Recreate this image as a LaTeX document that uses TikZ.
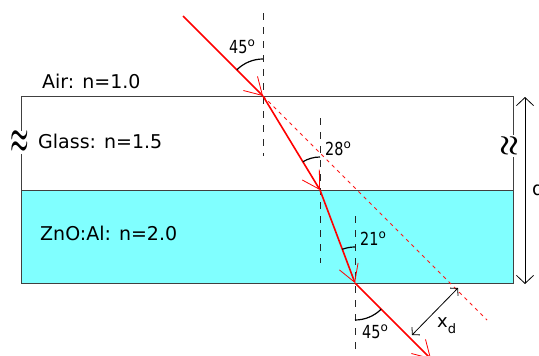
\documentclass[tikz,border=0pt]{standalone}
\usepackage{fontspec}
\setmainfont{DejaVu Sans}
\usepackage{graphicx}
\usetikzlibrary{arrows.meta,calc}
\definecolor{zno}{HTML}{80FFFF}
\definecolor{edgegray}{HTML}{404040}
\newcommand{\degl}[1]{\scalebox{0.8}[1]{#1}\raisebox{7pt}{\fontsize{12}{12}\selectfont o}}
\begin{document}
\begin{tikzpicture}[x=1pt,y=-1pt,
  lbl/.style={font=\fontsize{19}{19}\selectfont, inner sep=0pt, anchor=base west},
  deglbl/.style={font=\fontsize{18}{18}\selectfont, inner sep=0pt, anchor=base west},
  layer/.style={draw=edgegray, line width=0.8pt},
  ray/.style={red, line width=1.6pt, -{Straight Barb[length=17pt,width=20pt,line width=0.8pt]}},
  extline/.style={red!90, line width=0.9pt, dash pattern=on 3.5pt off 4pt},
  normal/.style={black!85, line width=0.9pt, dash pattern=on 7pt off 7pt},
  anglearc/.style={black, line width=1.2pt},
  dimarrow/.style={black, line width=0.8pt, {Straight Barb[length=8pt,width=17pt,line width=0.8pt]}-{Straight Barb[length=8pt,width=17pt,line width=0.8pt]}},
  xdarrow/.style={black, line width=0.8pt, {Straight Barb[length=5pt,width=11pt,line width=0.8pt]}-{Straight Barb[length=5pt,width=11pt,line width=0.8pt]}},
  wave/.style={font=\fontsize{20}{20}\selectfont\boldmath, inner sep=0pt, fill=white}
]
\useasboundingbox (0,0) rectangle (539,356);

% layers
\draw[layer, fill=white] (21,96) rectangle (513,190);
\draw[layer, fill=zno] (21,190) rectangle (513,283);

% points
\coordinate (P0) at (183,16);
\coordinate (P1) at (263,96);
\coordinate (P2) at (320,190);
\coordinate (P3) at (355,283);
\coordinate (P4) at (431,359);
\coordinate (E) at (487,320);
\coordinate (N1a) at (263,13);
\coordinate (N1b) at (263,156);
\coordinate (N2a) at (320,118);
\coordinate (N2b) at (320,263);
\coordinate (N3a) at (355,216);
\coordinate (N3b) at (355,360);
\coordinate (D1) at (525,97);
\coordinate (D2) at (525,284);
\coordinate (X1) at (458,288);
\coordinate (X2) at (412,335);

% undeviated extension
\draw[extline] (P1) -- (E);

% normals
\draw[normal] (N1a) -- (N1b);
\draw[normal] (N2a) -- (N2b);
\draw[normal] (N3a) -- (N3b);

% ray
\draw[ray] (P0) -- (P1);
\draw[ray] (P1) -- (P2);
\draw[ray] (P2) -- (P3);
\draw[ray] (P3) -- (P4);

% angle arcs
\draw[anglearc] ($(P1)+(270:37)$) arc[start angle=270, end angle=225, radius=37];
\draw[anglearc] ($(P2)+(270:33)$) arc[start angle=270, end angle=238.8, radius=33];
\draw[anglearc] ($(P3)+(270:36)$) arc[start angle=270, end angle=249.4, radius=36];
\draw[anglearc] ($(P3)+(90:37)$) arc[start angle=90, end angle=45, radius=37];

% dimension arrows
\draw[dimarrow] (D1) -- (D2);
\draw[xdarrow] (X1) -- (X2);

% labels
\node[lbl] (air) at (42,88) {Air: n=1.0};
\node[lbl] (glass) at (38,148) {Glass: n=1.5};
\node[lbl] (zno) at (40,240) {ZnO:Al: n=2.0};
\node[wave] (wl) at (20,142.5) {\scalebox{1}[2]{$\approx$}};
\node[wave, rotate=90] (wr) at (510,146) {\scalebox{1.15}[1.6]{$\approx$}};
\node[lbl] (dlab) at (532,195) {d};
\node[deglbl] (a1) at (229,53) {\degl{45}};
\node[deglbl] (a2) at (325,155) {\degl{28}};
\node[deglbl] (a3) at (360,245) {\degl{21}};
\node[deglbl] (a4) at (362,338) {\degl{45}};
\node[inner sep=0pt, anchor=base west, font=\fontsize{18}{18}\selectfont] (xd) at (437,327) {x\raisebox{-6pt}{\fontsize{13}{13}\selectfont d}};
\end{tikzpicture}
\end{document}
